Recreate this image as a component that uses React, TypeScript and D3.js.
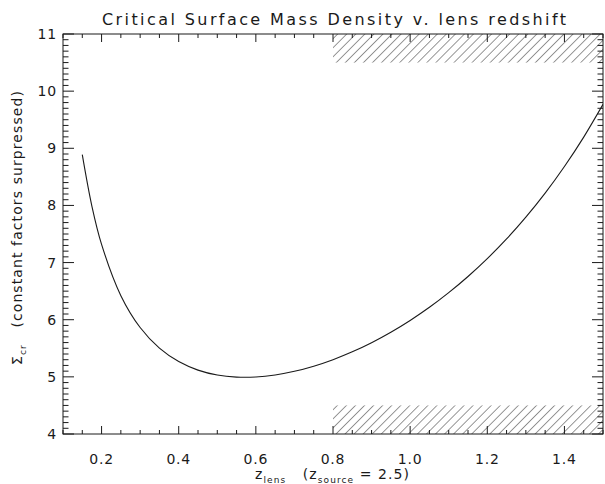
import React from "react";
import * as d3 from "d3";

const zLens = [0.15, 0.175, 0.2, 0.25, 0.3, 0.35, 0.4, 0.45, 0.5, 0.55, 0.6, 0.65, 0.7, 0.75, 0.8, 0.85, 0.9, 0.95, 1.0, 1.05, 1.1, 1.15, 1.2, 1.25, 1.3, 1.35, 1.4, 1.45, 1.5];
const sigmaCr = [8.888, 7.984, 7.318, 6.421, 5.863, 5.502, 5.267, 5.118, 5.032, 4.996, 4.998, 5.033, 5.097, 5.187, 5.301, 5.438, 5.598, 5.781, 5.987, 6.217, 6.473, 6.756, 7.069, 7.414, 7.795, 8.215, 8.681, 9.196, 9.769];

const xMajorTicks = [0.2, 0.4, 0.6, 0.8, 1.0, 1.2, 1.4];
const xTickLabels = ["0.2", "0.4", "0.6", "0.8", "1.0", "1.2", "1.4"];
const yMajorTicks = [4, 5, 6, 7, 8, 9, 10, 11];
const yTickLabels = ["4", "5", "6", "7", "8", "9", "10", "11"];

const hatchX = [0.8, 1.5];
const hatchTopY = [10.5, 11];
const hatchBottomY = [4, 4.5];

const W = 605;
const H = 484;
const M = { left: 63, right: 603, top: 34, bottom: 434 };

export default function App() {
  const x = d3.scaleLinear().domain([0.1, 1.5]).range([M.left, M.right]);
  const y = d3.scaleLinear().domain([4, 11]).range([M.bottom, M.top]);

  const line = d3
    .line<number>()
    .x((_, i) => x(zLens[i]))
    .y((d) => y(d))
    .curve(d3.curveCatmullRom.alpha(0.5));

  const xMinor = d3.range(0.1, 1.5001, 0.05).map((v) => +v.toFixed(3));
  const yMinor = d3.range(4, 11.0001, 0.1).map((v) => +v.toFixed(2));

  const xMajLen = 8, xMinLen = 4, yMajLen = 11, yMinLen = 5.5;
  const font = "'DejaVu Sans', sans-serif";
  const col = "#1a1a1a";
  const sp = "\u00a0";

  const isMajorX = (v: number) => xMajorTicks.some((m) => Math.abs(m - v) < 1e-6);
  const isMajorY = (v: number) => yMajorTicks.some((m) => Math.abs(m - v) < 1e-6);

  return (
    <svg width={W} height={H} style={{ position: "absolute", left: 0, top: 0, background: "#fff" }}>
      <defs>
        <pattern id="hatch" patternUnits="userSpaceOnUse" width={6.4} height={6.4} patternTransform="rotate(45)">
          <line x1={0} y1={0} x2={0} y2={6.4} stroke={col} strokeWidth={0.9} />
        </pattern>
        <clipPath id="plotClip">
          <rect x={M.left} y={M.top} width={M.right - M.left} height={M.bottom - M.top} />
        </clipPath>
      </defs>

      {/* hatched regions */}
      <rect x={x(hatchX[0])} y={y(hatchTopY[1])} width={x(hatchX[1]) - x(hatchX[0])} height={y(hatchTopY[0]) - y(hatchTopY[1])} fill="url(#hatch)" />
      <rect x={x(hatchX[0])} y={y(hatchBottomY[1])} width={x(hatchX[1]) - x(hatchX[0])} height={y(hatchBottomY[0]) - y(hatchBottomY[1])} fill="url(#hatch)" />

      {/* frame */}
      <rect x={M.left} y={M.top} width={M.right - M.left} height={M.bottom - M.top} fill="none" stroke={col} strokeWidth={1} />

      {/* x ticks bottom & top */}
      {xMinor.map((v, i) => {
        const len = isMajorX(v) ? xMajLen : xMinLen;
        const px = x(v);
        return (
          <g key={"xt" + i}>
            <line x1={px} x2={px} y1={M.bottom} y2={M.bottom - len} stroke={col} />
            <line x1={px} x2={px} y1={M.top} y2={M.top + len} stroke={col} />
          </g>
        );
      })}
      {/* y ticks left & right */}
      {yMinor.map((v, i) => {
        const len = isMajorY(v) ? yMajLen : yMinLen;
        const py = y(v);
        return (
          <g key={"yt" + i}>
            <line x1={M.left} x2={M.left + len} y1={py} y2={py} stroke={col} />
            <line x1={M.right} x2={M.right - len} y1={py} y2={py} stroke={col} />
          </g>
        );
      })}

      {/* curve */}
      <path d={line(sigmaCr) || ""} fill="none" stroke={col} strokeWidth={1.1} clipPath="url(#plotClip)" />

      {/* tick labels */}
      {xMajorTicks.map((v, i) => (
        <text key={"xl" + i} x={x(v)} y={464} textAnchor="middle" fontFamily={font} fontSize={14} letterSpacing={0.8} fill={col}>
          {xTickLabels[i]}
        </text>
      ))}
      {yMajorTicks.map((v, i) => (
        <text key={"yl" + i} x={57} y={y(v)} dy="0.36em" textAnchor="end" fontFamily={font} fontSize={14} letterSpacing={0.8} fill={col}>
          {yTickLabels[i]}
        </text>
      ))}

      {/* title */}
      <text x={334} y={25} textAnchor="middle" fontFamily={font} fontSize={16} fill={col} textLength={464} lengthAdjust="spacing">
        Critical Surface Mass Density v. lens redshift
      </text>

      {/* x label */}
      <text x={332} y={479} textAnchor="middle" fontFamily={font} fontSize={14} fill={col} textLength={154} lengthAdjust="spacing">
        <tspan>z</tspan>
        <tspan fontSize={9} dy={4}>lens</tspan>
        <tspan dy={-4}>{sp + sp + sp + "(z"}</tspan>
        <tspan fontSize={9} dy={4}>source</tspan>
        <tspan dy={-4}>{sp + "=" + sp + "2.5)"}</tspan>
      </text>

      {/* y label */}
      <text transform={`translate(22,228) rotate(-90)`} textAnchor="middle" fontFamily={font} fontSize={14} fill={col} textLength={274} lengthAdjust="spacing">
        <tspan>{"\u03a3"}</tspan>
        <tspan fontSize={9} dy={4}>cr</tspan>
        <tspan dy={-4}>{sp + sp + sp + "(constant factors surpressed)"}</tspan>
      </text>
    </svg>
  );
}
